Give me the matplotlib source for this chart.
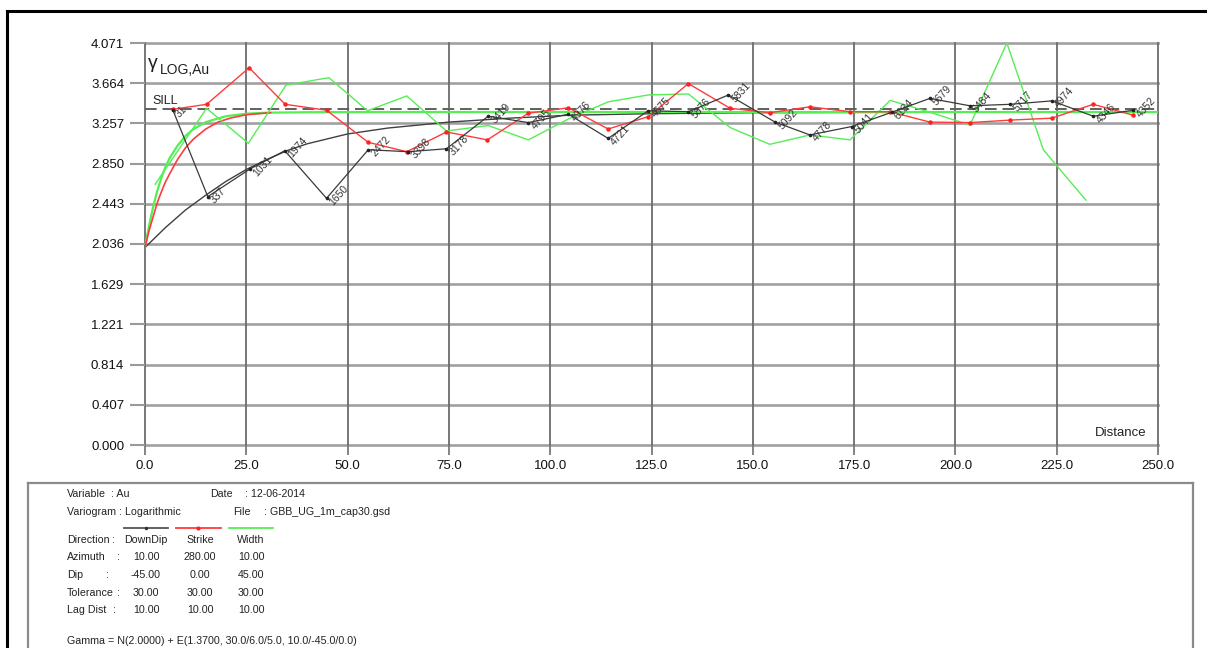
import matplotlib
matplotlib.use("Agg")
import matplotlib.pyplot as plt
from matplotlib.lines import Line2D

plt.rcParams['font.family'] = ['Liberation Sans', 'DejaVu Sans']

# ---------------- data ----------------
# DownDip experimental variogram (black) with pair counts
dd_x = [6.9, 15.5, 25.9, 34.5, 44.8, 55.1, 65.0, 74.4, 84.7, 94.6, 104.5, 114.3, 124.2,
        134.1, 144.0, 155.5, 164.1, 174.4, 184.3, 193.7, 203.6, 213.5, 223.8, 234.0, 243.9]
dd_y = [3.39, 2.515, 2.795, 2.98, 2.498, 2.99, 2.97, 3.00, 3.33, 3.265, 3.35, 3.105, 3.385,
        3.375, 3.545, 3.27, 3.14, 3.225, 3.37, 3.51, 3.435, 3.45, 3.485, 3.33, 3.39]
dd_pairs = ["31", "337", "1031", "1974", "1650", "2472", "3398", "3178", "3419", "4795",
            "4976", "4721", "4675", "5876", "5831", "5092", "4778", "5041", "6134", "5679",
            "5484", "5717", "4974", "4346", "4352"]

# Strike experimental variogram (red)
st_x = [7.0, 15.2, 25.7, 34.6, 44.8, 55.1, 64.6, 74.4, 84.5, 94.6, 104.5, 114.3, 124.2,
        134.1, 144.4, 154.2, 164.1, 174.0, 183.9, 193.7, 203.6, 213.5, 223.8, 234.0, 243.9]
st_y = [3.40, 3.45, 3.82, 3.45, 3.39, 3.065, 2.97, 3.17, 3.09, 3.36, 3.415, 3.20, 3.325,
        3.66, 3.41, 3.365, 3.425, 3.375, 3.375, 3.27, 3.265, 3.29, 3.31, 3.45, 3.34]

# Width experimental variogram (green)
wd_x = [2.5, 15.2, 25.5, 34.8, 45.4, 54.9, 64.6, 74.4, 84.7, 94.6, 104.9, 114.3, 124.2,
        134.1, 144.4, 154.2, 164.1, 174.0, 183.9, 193.7, 203.6, 212.7, 221.7, 232.2]
wd_y = [2.64, 3.41, 3.055, 3.645, 3.72, 3.385, 3.535, 3.18, 3.235, 3.09, 3.31, 3.475, 3.545,
        3.555, 3.215, 3.045, 3.14, 3.09, 3.49, 3.37, 3.24, 4.071, 2.99, 2.48]

# Model curves
mdd_x = [0, 5, 10, 15, 20, 25, 30, 35, 40, 50, 60, 75, 90, 105, 125, 150, 200, 250]
mdd_y = [2.00, 2.20, 2.38, 2.53, 2.67, 2.79, 2.89, 2.98, 3.05, 3.15, 3.21, 3.27, 3.31,
         3.34, 3.355, 3.365, 3.37, 3.372]
mst_x = [0, 1, 2, 3, 4, 5, 6, 8, 10, 12, 15, 18, 21, 25, 31]
mst_y = [2.00, 2.17, 2.31, 2.45, 2.56, 2.66, 2.74, 2.89, 3.01, 3.10, 3.20, 3.27, 3.31, 3.345, 3.365]
mwd_x = [0, 1, 2, 3, 4, 5, 6, 8, 10, 12, 15, 20, 25, 30, 40, 60, 250]
mwd_y = [2.00, 2.22, 2.41, 2.57, 2.70, 2.81, 2.90, 3.03, 3.13, 3.20, 3.27, 3.33, 3.355,
         3.365, 3.37, 3.372, 3.372]

sill = 3.40

y_ticks = [0.000, 0.407, 0.814, 1.221, 1.629, 2.036, 2.443, 2.850, 3.257, 3.664, 4.071]
y_labels = ["0.000", "0.407", "0.814", "1.221", "1.629", "2.036", "2.443", "2.850",
            "3.257", "3.664", "4.071"]
x_ticks = [0, 25, 50, 75, 100, 125, 150, 175, 200, 225, 250]
x_labels = ["0.0", "25.0", "50.0", "75.0", "100.0", "125.0", "150.0", "175.0", "200.0",
            "225.0", "250.0"]

# ---------------- figure ----------------
W, H = 1207, 648
fig = plt.figure(figsize=(W / 100, H / 100), dpi=100)
fig.patch.set_facecolor("white")

def fx(px):
    return px / W

def fy(py):
    return 1 - py / H

ax = fig.add_axes([fx(145), fy(445), (1158 - 145) / W, (445 - 43) / H])
ax.set_xlim(0, 250)
ax.set_ylim(0, 4.071)
for s in ax.spines.values():
    s.set_visible(False)

ax.set_yticks(y_ticks)
ax.set_yticklabels(y_labels)
ax.set_xticks(x_ticks)
ax.set_xticklabels(x_labels)
ax.tick_params(axis="y", length=11, width=1.5, color="#9a9a9a", pad=4, labelsize=9.5,
               labelcolor="#111111")
ax.tick_params(axis="x", length=7, width=1.3, color="#7a7a7a", pad=4, labelsize=9.5,
               labelcolor="#111111")

for yv in y_ticks:
    ax.axhline(yv, color="#a0a0a0", lw=1.9, zorder=1, clip_on=False)
for xv in x_ticks:
    ax.axvline(xv, color="#6c6c6c", lw=1.3, zorder=1, clip_on=False)

# sill
ax.plot([0, 250], [sill, sill], color="#606060", lw=1.4, dashes=(6, 3), zorder=2)

# models
ax.plot(mdd_x, mdd_y, color="#404040", lw=1.0, zorder=3)
ax.plot(mwd_x, mwd_y, color="#55ee55", lw=1.6, zorder=3)
ax.plot(mst_x, mst_y, color="#ff3b3b", lw=1.2, zorder=3)

# experimental
ax.plot(wd_x, wd_y, color="#55ee55", lw=1.0, zorder=4)
ax.plot(st_x, st_y, color="#ff3b3b", lw=1.0, marker="o", ms=2.2, mec="#ff2020",
        mfc="#ff2020", zorder=4)
ax.plot(dd_x, dd_y, color="#3a3a3a", lw=0.9, marker="o", ms=1.6, mec="#222222",
        mfc="#222222", zorder=5)

for x, y, lab in zip(dd_x, dd_y, dd_pairs):
    ax.annotate(lab, (x, y), xytext=(3.5, -4), textcoords="offset points",
                rotation=48, rotation_mode="anchor", ha="left", va="center",
                fontsize=7.5, color="#333333", zorder=6)

# axis captions
fig.text(fx(148), fy(64), "γ", fontsize=14, va="center", ha="left", color="#222222")
fig.text(fx(160), fy(70), "LOG,Au", fontsize=10, va="center", ha="left", color="#222222")
fig.text(fx(152), fy(101), "SILL", fontsize=9, va="center", ha="left", color="#222222")
fig.text(fx(1146), fy(433), "Distance", fontsize=9.5, va="center", ha="right",
         color="#222222")

# outer frame
fig.add_artist(Line2D([fx(7), fx(7)], [0, fy(11)], color="black", lw=2.2,
                      transform=fig.transFigure))
fig.add_artist(Line2D([fx(7), 1], [fy(11), fy(11)], color="black", lw=2.2,
                      transform=fig.transFigure))

# info box
bc = "#8a8a8a"
fig.add_artist(Line2D([fx(28), fx(1193)], [fy(483), fy(483)], color=bc, lw=1.6,
                      transform=fig.transFigure))
fig.add_artist(Line2D([fx(28), fx(28)], [fy(483), 0], color=bc, lw=1.6,
                      transform=fig.transFigure))
fig.add_artist(Line2D([fx(1193), fx(1193)], [fy(483), 0], color=bc, lw=1.6,
                      transform=fig.transFigure))

fs = 7.7
tc = "#222222"

def t(px, py, s, ha="left"):
    fig.text(fx(px), fy(py), s, fontsize=fs, va="center", ha=ha, color=tc)

t(67, 494, "Variable")
t(111, 494, ": Au")
t(210, 494, "Date")
t(245, 494, ": 12-06-2014")
t(67, 512, "Variogram : Logarithmic")
t(233, 512, "File")
t(264, 512, ": GBB_UG_1m_cap30.gsd")

# legend samples
fig.add_artist(Line2D([fx(124), fx(168)], [fy(527.5), fy(527.5)], color="#555555", lw=1.3,
                      transform=fig.transFigure))
fig.add_artist(Line2D([fx(146)], [fy(527.5)], color="#333333", marker="o", ms=1.5,
                      transform=fig.transFigure))
fig.add_artist(Line2D([fx(176), fx(221)], [fy(527.5), fy(527.5)], color="#ff3b3b", lw=1.3,
                      transform=fig.transFigure))
fig.add_artist(Line2D([fx(198)], [fy(527.5)], color="#ff2020", marker="o", ms=2,
                      transform=fig.transFigure))
fig.add_artist(Line2D([fx(229), fx(273)], [fy(527.5), fy(527.5)], color="#55ee55", lw=1.3,
                      transform=fig.transFigure))

rows = [
    ("Direction", 540, 112, ["DownDip", "Strike", "Width"]),
    ("Azimuth", 557.5, 117, ["10.00", "280.00", "10.00"]),
    ("Dip", 575, 106, ["-45.00", "0.00", "45.00"]),
    ("Tolerance", 592.5, 117, ["30.00", "30.00", "30.00"]),
    ("Lag Dist", 610, 113, ["10.00", "10.00", "10.00"]),
]
col_x = [146, 200, 251]
for name, py, cx, vals in rows:
    t(67, py, name)
    t(cx, py, ":")
    for c, v in zip(col_x, vals):
        t(c, py, v, ha="center")

t(67, 641.5, "Gamma = N(2.0000) + E(1.3700, 30.0/6.0/5.0, 10.0/-45.0/0.0)")

fig.savefig("out.png", dpi=100)
